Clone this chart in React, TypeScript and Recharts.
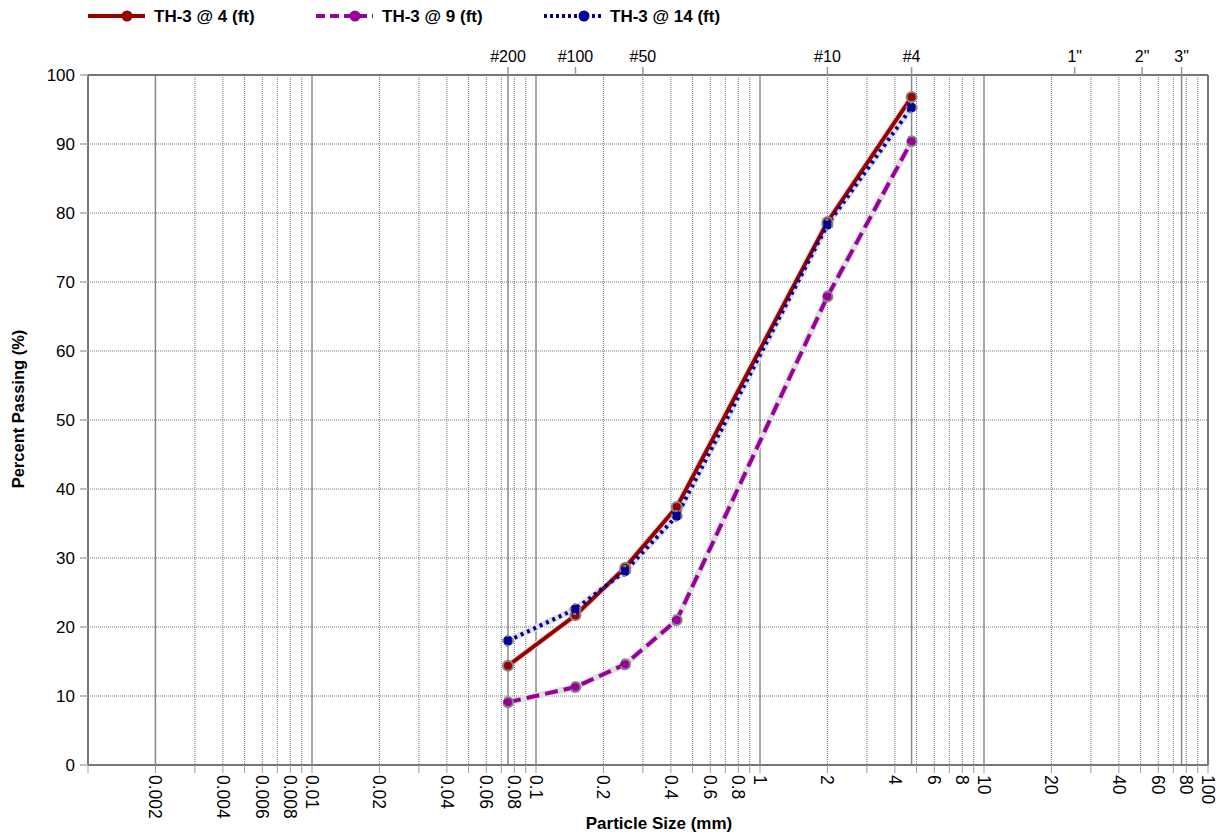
import React from "react";
import {
  LineChart,
  Line,
  XAxis,
  YAxis,
  CartesianGrid,
  ReferenceLine,
  Label,
} from "recharts";

// ---- data ----
const sieveSizes = [0.075, 0.15, 0.25, 0.425, 2.0, 4.75];
const th4 = [14.4, 21.7, 28.6, 37.4, 78.7, 96.8];
const th9 = [9.1, 11.3, 14.6, 21.0, 67.9, 90.4];
const th14 = [18.0, 22.6, 28.1, 36.1, 78.3, 95.3];

const seriesNames = ["TH-3 @ 4 (ft)", "TH-3 @ 9 (ft)", "TH-3 @ 14 (ft)"];
const seriesKeys = ["th4", "th9", "th14"];
const seriesColors = ["#990000", "#990099", "#000099"];
const seriesDash = [undefined, "13 6", "3 4"];

const bottomTicks = [
  0.001, 0.002, 0.003, 0.004, 0.005, 0.006, 0.007, 0.008, 0.009,
  0.01, 0.02, 0.03, 0.04, 0.05, 0.06, 0.07, 0.08, 0.09,
  0.1, 0.2, 0.3, 0.4, 0.5, 0.6, 0.7, 0.8, 0.9,
  1, 2, 3, 4, 5, 6, 7, 8, 9,
  10, 20, 30, 40, 50, 60, 70, 80, 90,
  100,
];
const bottomLabelValues = [
  0.002, 0.004, 0.006, 0.008, 0.01, 0.02, 0.04, 0.06, 0.08, 0.1,
  0.2, 0.4, 0.6, 0.8, 1, 2, 4, 6, 8, 10, 20, 40, 60, 80, 100,
];
const bottomLabelTexts = [
  "0.002", "0.004", "0.006", "0.008", "0.01", "0.02", "0.04", "0.06", "0.08", "0.1",
  "0.2", "0.4", "0.6", "0.8", "1", "2", "4", "6", "8", "10", "20", "40", "60", "80", "100",
];
const sieveTickValues = [0.075, 0.15, 0.3, 2.0, 4.75, 25.4, 50.8, 76.2];
const sieveTickLabels = ["#200", "#100", "#50", "#10", "#4", '1"', '2"', '3"'];
const yTicks = [0, 10, 20, 30, 40, 50, 60, 70, 80, 90, 100];
const decadeLines = [0.01, 0.1, 1, 10];
const boundaryLines = [0.002, 0.075, 4.75, 76.2];

const tableData = sieveSizes.map((s, i) => ({
  size: s,
  th4: th4[i],
  th9: th9[i],
  th14: th14[i],
}));

const FONT = "'Liberation Sans', Arial, Helvetica, sans-serif";

const bottomLabelMap = new Map<number, string>();
bottomLabelValues.forEach((v, i) => bottomLabelMap.set(v, bottomLabelTexts[i]));
const sieveLabelMap = new Map<number, string>();
sieveTickValues.forEach((v, i) => sieveLabelMap.set(v, sieveTickLabels[i]));

const BottomTick = (props: any) => {
  const { x, y, payload } = props;
  const label = bottomLabelMap.get(payload.value);
  if (!label) return <g />;
  return (
    <text
      x={x}
      y={y}
      transform={`rotate(90 ${x} ${y})`}
      textAnchor="start"
      dominantBaseline="central"
      fontSize={17.5}
      fontFamily={FONT}
      fill="#000"
    >
      {label}
    </text>
  );
};

const TopTick = (props: any) => {
  const { x, y, payload } = props;
  const label = sieveLabelMap.get(payload.value) ?? "";
  return (
    <text x={x} y={y} textAnchor="middle" fontSize={16} fontFamily={FONT} fill="#000">
      {label}
    </text>
  );
};

const LeftTick = (props: any) => {
  const { x, y, payload } = props;
  return (
    <text
      x={x}
      y={y}
      textAnchor="end"
      dominantBaseline="central"
      fontSize={17}
      fontFamily={FONT}
      fill="#000"
    >
      {payload.value}
    </text>
  );
};

const LegendSvg = () => {
  const pos = [
    { x1: 88, x2: 145, m: 127, t: 154 },
    { x1: 316, x2: 373, m: 355, t: 382 },
    { x1: 544, x2: 601, m: 584, t: 610 },
  ];
  const yy = 16;
  return (
    <svg
      width={800}
      height={34}
      style={{ position: "absolute", left: 0, top: 0 }}
    >
      {seriesNames.map((n, i) => (
        <g key={n}>
          <line
            x1={pos[i].x1}
            x2={pos[i].x2}
            y1={yy}
            y2={yy}
            stroke={seriesColors[i]}
            strokeWidth={4}
            strokeDasharray={i === 1 ? "9 5" : i === 2 ? "3 3" : undefined}
          />
          <circle cx={pos[i].m} cy={yy} r={5.5} fill={seriesColors[i]} />
          <text
            x={pos[i].t}
            y={yy}
            dominantBaseline="central"
            fontSize={17}
            fontWeight="bold"
            fontFamily={FONT}
            fill="#000"
          >
            {n}
          </text>
        </g>
      ))}
    </svg>
  );
};

export default function App() {
  return (
    <div
      style={{
        position: "absolute",
        left: 0,
        top: 0,
        width: 1221,
        height: 838,
        background: "#fff",
        fontFamily: FONT,
      }}
    >
      <LineChart
        width={1221}
        height={838}
        data={tableData}
        margin={{ top: 45, right: 13, bottom: 3, left: 28 }}
      >
        <CartesianGrid
          xAxisId="bottom"
          yAxisId="left"
          stroke="#777"
          strokeDasharray="1 1"
          strokeWidth={1}
        />
        {decadeLines.map((v) => (
          <ReferenceLine
            key={"d" + v}
            x={v}
            xAxisId="bottom"
            yAxisId="left"
            stroke="#333"
            strokeDasharray="1 1"
            strokeWidth={1}
          />
        ))}
        {boundaryLines.map((v) => (
          <ReferenceLine
            key={"b" + v}
            x={v}
            xAxisId="bottom"
            yAxisId="left"
            stroke="#888"
            strokeWidth={1.5}
          />
        ))}
        <ReferenceLine
          x={100}
          xAxisId="bottom"
          yAxisId="left"
          stroke="#777"
          strokeWidth={2}
        />
        <XAxis
          xAxisId="bottom"
          dataKey="size"
          type="number"
          scale="log"
          domain={[0.001, 100]}
          allowDataOverflow
          ticks={bottomTicks}
          interval={0}
          height={70}
          tickSize={8}
          tickMargin={2}
          tick={<BottomTick />}
          tickLine={{ stroke: "#999", strokeWidth: 1 }}
          axisLine={{ stroke: "#777", strokeWidth: 2 }}
        >
          <Label
            content={() => (
              <text
                x={659}
                y={823}
                textAnchor="middle"
                dominantBaseline="central"
                fontSize={17}
                fontWeight="bold"
                fontFamily={FONT}
                fill="#000"
              >
                Particle Size (mm)
              </text>
            )}
          />
        </XAxis>
        <XAxis
          xAxisId="top"
          orientation="top"
          dataKey="size"
          type="number"
          scale="log"
          domain={[0.001, 100]}
          allowDataOverflow
          ticks={sieveTickValues}
          interval={0}
          height={30}
          tickSize={8}
          tickMargin={5}
          tick={<TopTick />}
          tickLine={{ stroke: "#999", strokeWidth: 1.5 }}
          axisLine={{ stroke: "#777", strokeWidth: 2 }}
        />
        <YAxis
          yAxisId="left"
          type="number"
          domain={[0, 100]}
          ticks={yTicks}
          interval={0}
          width={60}
          tickSize={8}
          tickMargin={5}
          tick={<LeftTick />}
          tickLine={{ stroke: "#aaa", strokeWidth: 1.5 }}
          axisLine={{ stroke: "#777", strokeWidth: 2 }}
        >
          <Label
            content={() => (
              <text
                x={18}
                y={409}
                transform="rotate(-90 18 409)"
                textAnchor="middle"
                dominantBaseline="central"
                fontSize={16.5}
                fontWeight="bold"
                fontFamily={FONT}
                fill="#000"
              >
                Percent Passing (%)
              </text>
            )}
          />
        </YAxis>
        {seriesKeys.map((k) => (
          <Line
            key={"h" + k}
            xAxisId="bottom"
            yAxisId="left"
            dataKey={k}
            type="linear"
            stroke="#e0e0e0"
            strokeWidth={6.5}
            dot={false}
            activeDot={false}
            legendType="none"
            isAnimationActive={false}
          />
        ))}
        {seriesKeys.map((k, i) => (
          <Line
            key={k}
            xAxisId="bottom"
            yAxisId="left"
            dataKey={k}
            name={seriesNames[i]}
            type="linear"
            stroke={seriesColors[i]}
            strokeWidth={4}
            strokeDasharray={seriesDash[i]}
            dot={{ r: 5, fill: seriesColors[i], stroke: "#888", strokeWidth: 2 }}
            activeDot={false}
            isAnimationActive={false}
          />
        ))}
      </LineChart>
      <LegendSvg />
    </div>
  );
}
